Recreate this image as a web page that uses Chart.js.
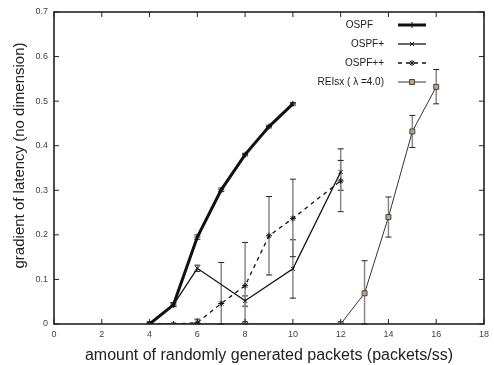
<!DOCTYPE html>
<html>
<head>
<meta charset="utf-8">
<script src="https://cdn.jsdelivr.net/npm/chart.js@4/dist/chart.umd.min.js"></script>
<style>
  html, body { margin: 0; padding: 0; background: #fff; }
  #wrap { width: 494px; height: 365px; }
</style>
</head>
<body>
<div id="wrap"><canvas id="chart"></canvas></div>
<script>
// values
const ospfX = [4, 5, 6, 7, 8, 9, 10];
const ospfY = [0, 0.043, 0.195, 0.301, 0.38, 0.443, 0.494];
const ospfLo = [0, 0.039, 0.19, 0.297, 0.377, 0.44, 0.491];
const ospfHi = [0, 0.048, 0.2, 0.305, 0.383, 0.446, 0.497];

const plusX = [4, 5, 6, 8, 10, 12];
const plusY = [0, 0.043, 0.125, 0.052, 0.124, 0.341];
const plusLo = [0, 0.04, 0.118, 0.04, 0.058, 0.3];
const plusHi = [0, 0.047, 0.132, 0.063, 0.189, 0.393];

const plus2X = [4, 5, 6, 7, 8, 9, 10, 12];
const plus2Y = [0, 0, 0.003, 0.046, 0.086, 0.198, 0.237, 0.321];
const plus2Lo = [0, 0, 0, 0, 0, 0.11, 0.151, 0.252];
const plus2Hi = [0, 0, 0.011, 0.138, 0.183, 0.286, 0.325, 0.367];

const reiX = [4, 8, 12, 13, 14, 15, 16];
const reiY = [0, 0, 0, 0.069, 0.24, 0.432, 0.532];
const reiLo = [0, 0, 0, 0, 0.195, 0.396, 0.494];
const reiHi = [0, 0, 0, 0.142, 0.285, 0.468, 0.571];

const xTicks = [0, 2, 4, 6, 8, 10, 12, 14, 16, 18];
const yTicks = [0, 0.1, 0.2, 0.3, 0.4, 0.5, 0.6, 0.7];
const legendLabels = ["OSPF", "OSPF+", "OSPF++", "REIsx ( \u03bb =4.0)"];

function pts(xs, ys) {
  return xs.map((x, i) => ({ x: x, y: ys[i] }));
}

// vertical error bars, drawn through the chart scales
const errorBars = {
  id: "errorBars",
  beforeDatasetsDraw(chart) {
    const ctx = chart.ctx;
    const xs = chart.scales.x, ys = chart.scales.y;
    ctx.save();
    chart.data.datasets.forEach((ds) => {
      ds.data.forEach((p, i) => {
        const lo = ds.errLo[i], hi = ds.errHi[i];
        if (hi - lo < 0.001) return;
        const px = xs.getPixelForValue(p.x);
        const y1 = ys.getPixelForValue(lo), y2 = ys.getPixelForValue(hi);
        ctx.strokeStyle = "#888";
        ctx.lineWidth = 1.5;
        ctx.beginPath();
        ctx.moveTo(px, y1); ctx.lineTo(px, y2);
        ctx.stroke();
        ctx.strokeStyle = "#222";
        ctx.lineWidth = 1;
        ctx.beginPath();
        ctx.moveTo(px - 3, y1); ctx.lineTo(px + 3, y1);
        ctx.moveTo(px - 3, y2); ctx.lineTo(px + 3, y2);
        ctx.stroke();
      });
    });
    ctx.restore();
  }
};

// box frame with inward ticks, gnuplot style
const frame = {
  id: "frame",
  afterDraw(chart) {
    const ctx = chart.ctx;
    const a = chart.chartArea;
    const xs = chart.scales.x, ys = chart.scales.y;
    ctx.save();
    ctx.strokeStyle = "#222";
    ctx.lineWidth = 1;
    ctx.beginPath();
    xTicks.forEach((v) => {
      const px = xs.getPixelForValue(v);
      ctx.moveTo(px, a.bottom); ctx.lineTo(px, a.bottom - 5);
      ctx.moveTo(px, a.top); ctx.lineTo(px, a.top + 5);
    });
    yTicks.forEach((v) => {
      const py = ys.getPixelForValue(v);
      ctx.moveTo(a.left, py); ctx.lineTo(a.left + 5, py);
      ctx.moveTo(a.right, py); ctx.lineTo(a.right - 5, py);
    });
    ctx.stroke();
    ctx.lineWidth = 1.6;
    ctx.strokeRect(a.left, a.top, a.right - a.left, a.bottom - a.top);
    ctx.restore();
  }
};

// legend: right aligned text, sample on the right
const keyBox = {
  id: "keyBox",
  afterDraw(chart) {
    const ctx = chart.ctx;
    const textRight = [373, 384, 384, 384];
    ctx.save();
    ctx.font = "10px 'Liberation Sans', Arial, sans-serif";
    ctx.textAlign = "right";
    ctx.textBaseline = "middle";
    chart.data.datasets.forEach((ds, i) => {
      const y = 25 + i * 19;
      ctx.fillStyle = "#222";
      ctx.fillText(legendLabels[i], textRight[i], y);
      ctx.strokeStyle = ds.borderColor;
      ctx.lineWidth = ds.borderWidth;
      ctx.setLineDash(ds.borderDash || []);
      ctx.beginPath();
      ctx.moveTo(398, y); ctx.lineTo(426, y);
      ctx.stroke();
      ctx.setLineDash([]);
      ctx.lineWidth = 1;
      ctx.strokeStyle = ds.pointBorderColor;
      ctx.fillStyle = ds.pointBackgroundColor;
      Chart.helpers.drawPoint(ctx, {
        pointStyle: ds.pointStyle, radius: ds.pointRadius, rotation: 0, borderWidth: 1
      }, 412, y);
    });
    ctx.restore();
  }
};

new Chart(document.getElementById("chart"), {
  type: "scatter",
  data: {
    datasets: [
      {
        label: legendLabels[0], data: pts(ospfX, ospfY), errLo: ospfLo, errHi: ospfHi,
        showLine: true, borderColor: "#111", borderWidth: 3,
        pointStyle: "cross", pointRadius: 3, pointBorderColor: "#111", pointBackgroundColor: "#111", pointBorderWidth: 1
      },
      {
        label: legendLabels[1], data: pts(plusX, plusY), errLo: plusLo, errHi: plusHi,
        showLine: true, borderColor: "#111", borderWidth: 1.3,
        pointStyle: "crossRot", pointRadius: 3, pointBorderColor: "#111", pointBackgroundColor: "#111", pointBorderWidth: 1
      },
      {
        label: legendLabels[2], data: pts(plus2X, plus2Y), errLo: plus2Lo, errHi: plus2Hi,
        showLine: true, borderColor: "#111", borderWidth: 1.3, borderDash: [4, 4],
        pointStyle: "star", pointRadius: 3, pointBorderColor: "#111", pointBackgroundColor: "#111", pointBorderWidth: 1
      },
      {
        label: legendLabels[3], data: pts(reiX, reiY), errLo: reiLo, errHi: reiHi,
        showLine: true, borderColor: "#333", borderWidth: 1,
        pointStyle: "rect", pointRadius: 3.5, pointBorderColor: "#444", pointBackgroundColor: "#c9a27c", pointBorderWidth: 1
      }
    ]
  },
  options: {
    responsive: true,
    maintainAspectRatio: false,
    animation: false,
    layout: { padding: { left: 0, right: 6, top: 12, bottom: 0 } },
    plugins: { legend: { display: false }, tooltip: { enabled: false } },
    scales: {
      x: {
        type: "linear", min: 0, max: 18,
        afterBuildTicks: (s) => { s.ticks = xTicks.map((v) => ({ value: v })); },
        afterFit: (s) => { s.height = 41; },
        grid: { display: false, drawTicks: false },
        border: { display: false },
        ticks: { color: "#444", padding: 5, font: { family: "'Liberation Sans', Arial", size: 9 } },
        title: {
          display: true, text: "amount of randomly generated packets (packets/ss)",
          color: "#222", padding: { top: 0, bottom: 0 },
          font: { family: "'Liberation Sans', Arial", size: 16 }
        }
      },
      y: {
        type: "linear", min: 0, max: 0.7,
        afterBuildTicks: (s) => { s.ticks = yTicks.map((v) => ({ value: v })); },
        afterFit: (s) => { s.width = 54; },
        grid: { display: false, drawTicks: false },
        border: { display: false },
        ticks: { color: "#444", padding: 6, font: { family: "'Liberation Sans', Arial", size: 9 } },
        title: {
          display: true, text: "      gradient of latency (no dimension)",
          color: "#222", padding: { top: 11, bottom: 0 },
          font: { family: "'Liberation Sans', Arial", size: 15 }
        }
      }
    }
  },
  plugins: [errorBars, frame, keyBox]
});
</script>
</body>
</html>
